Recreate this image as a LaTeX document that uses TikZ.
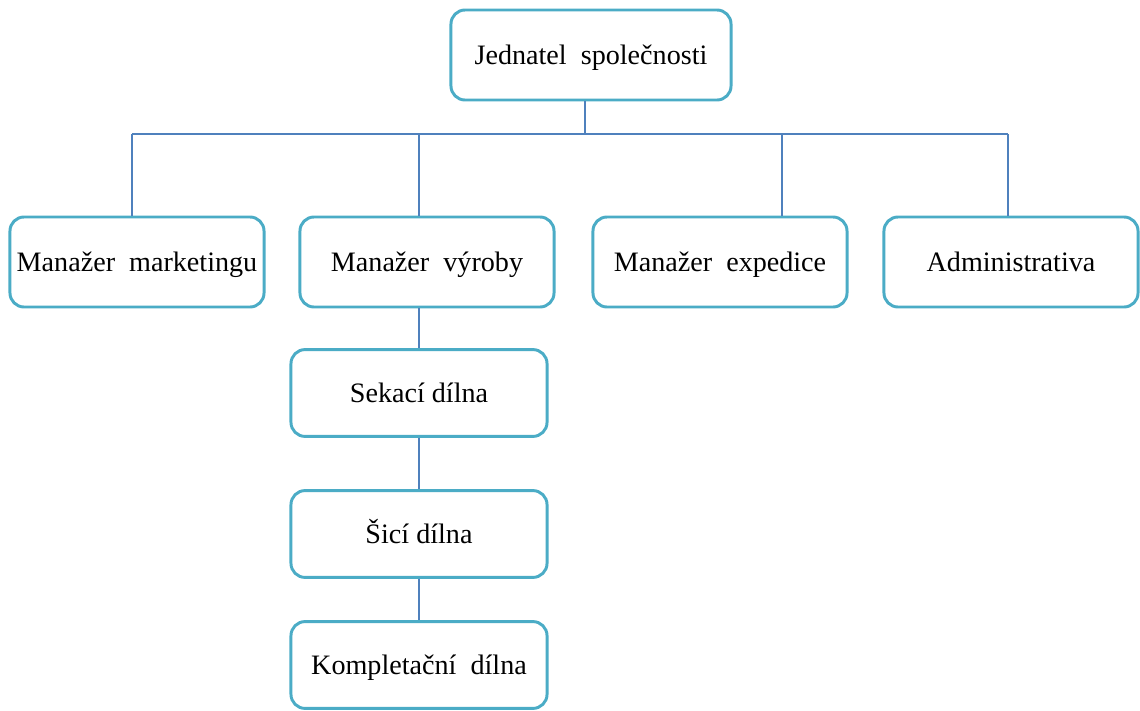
\documentclass[tikz,border=0pt]{standalone}
\usepackage{fontspec}
\setmainfont{Liberation Serif}
\definecolor{boxline}{RGB}{75,172,198}
\definecolor{linkline}{RGB}{79,129,189}

\begin{document}
\begin{tikzpicture}[x=0.025cm,y=-0.025cm]
  \tikzstyle{unit}=[draw=boxline,line width=2.1pt,fill=white,rounded corners=10pt,
    inner sep=0pt,text height=1.3em,text depth=0em,font=\fontsize{20}{24}\selectfont]
  \tikzstyle{wide}=[unit,minimum width=7cm,minimum height=2.25cm]
  \tikzstyle{mid}=[unit,minimum width=6.35cm,minimum height=2.25cm]
  \tikzstyle{shop}=[unit,minimum width=6.4cm,minimum height=2.17cm]
  \tikzstyle{link}=[draw=linkline,line width=1pt]

  \useasboundingbox (0,0) rectangle (1140,711);

  \node[wide] at (591, 55) (jednatel) {Jednatel\ \ společnosti};

  \node[mid] at (137, 262) (marketing) {Manažer\ \ marketingu};
  \node[mid] at (427, 262) (vyroba) {Manažer\ \ výroby};
  \node[mid] at (720, 262) (expedice) {Manažer\ \ expedice};
  \node[mid] at (1011, 262) (admin) {Administrativa};

  \node[shop] at (419, 393) (sekaci) {Sekací dílna};
  \node[shop] at (419, 534) (sici) {Šicí dílna};
  \node[shop] at (419, 665) (komplet) {Kompletační\ \ dílna};

  \coordinate (bus) at (585, 134);
  \coordinate (busL) at (132, 134);
  \coordinate (busR) at (1008, 134);
  \coordinate (expjoin) at (782, 134);

  \draw[link] (jednatel.south -| bus) -- (bus);
  \draw[link] (busL) -- (busR);
  \draw[link] (busL) -- (marketing.north -| busL);
  \draw[link] (vyroba.north -| sekaci) -- (bus -| sekaci);
  \draw[link] (expjoin) -- (expedice.north -| expjoin);
  \draw[link] (busR) -- (admin.north -| busR);

  \draw[link] (vyroba.south -| sekaci) -- (sekaci);
  \draw[link] (sekaci) -- (sici);
  \draw[link] (sici) -- (komplet);

  \end{tikzpicture}
\end{document}
